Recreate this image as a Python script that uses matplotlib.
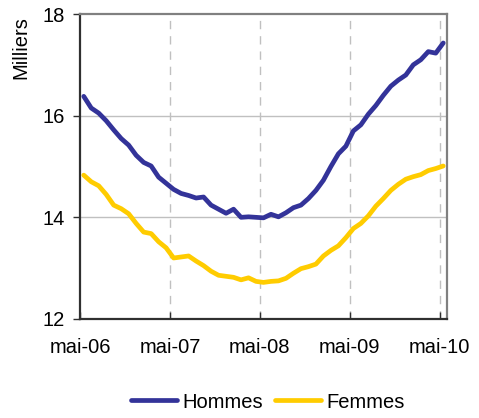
import numpy as np
import matplotlib
matplotlib.use("Agg")
import matplotlib.pyplot as plt

plt.rcParams["font.family"] = ["Liberation Sans", "DejaVu Sans"]

# monthly values, mai-06 .. mai-10 (thousands)
hommes = [16.38, 16.15, 16.05, 15.90, 15.72, 15.55, 15.42, 15.22, 15.08, 15.01,
          14.79, 14.67, 14.55, 14.47, 14.43, 14.38, 14.40, 14.24, 14.16, 14.08,
          14.16, 14.00, 14.01, 14.00, 13.99, 14.06, 14.01, 14.09, 14.19, 14.24,
          14.37, 14.53, 14.73, 15.00, 15.25, 15.40, 15.70, 15.82, 16.03, 16.20,
          16.40, 16.58, 16.70, 16.80, 17.00, 17.10, 17.26, 17.23, 17.43]
femmes = [14.83, 14.70, 14.62, 14.45, 14.24, 14.17, 14.07, 13.88, 13.71, 13.68,
          13.52, 13.40, 13.20, 13.22, 13.24, 13.14, 13.05, 12.94, 12.86, 12.84,
          12.82, 12.77, 12.81, 12.74, 12.72, 12.74, 12.75, 12.80, 12.90, 12.99,
          13.03, 13.08, 13.24, 13.35, 13.44, 13.60, 13.78, 13.88, 14.03, 14.22,
          14.37, 14.53, 14.65, 14.75, 14.80, 14.84, 14.92, 14.96, 15.01]
tick_months = [0, 12, 24, 36, 48]
tick_labels = ["mai-06", "mai-07", "mai-08", "mai-09", "mai-10"]
y_ticks = [12, 14, 16, 18]

# points sit in the middle of each month slot (Excel category axis)
x = np.arange(len(hommes)) + 0.5

fig = plt.figure(figsize=(4.79, 4.18), dpi=100)
ax = fig.add_axes([80 / 479, 1 - 319 / 418, 367 / 479, 305 / 418])

for y in [14, 16]:
    ax.axhline(y, color="#c0c0c0", lw=1, zorder=1)
for m in tick_months[1:]:
    ax.axvline(m, color="#c0c0c0", lw=1, ls=(0, (6, 5)), zorder=1)

ax.plot(x, hommes, color="#333399", lw=3.4, solid_capstyle="round", label="Hommes", zorder=3)
ax.plot(x, femmes, color="#ffcc00", lw=3.4, solid_capstyle="round", label="Femmes", zorder=3)

ax.set_xlim(0, 49)
ax.set_ylim(12, 18)
ax.set_xticks(tick_months)
ax.set_xticklabels(tick_labels)
ax.set_yticks(y_ticks)

for side in ["left", "bottom"]:
    ax.spines[side].set_color("#303030")
    ax.spines[side].set_linewidth(1.6)
for side in ["top", "right"]:
    ax.spines[side].set_color("#808080")
    ax.spines[side].set_linewidth(1.6)

ax.tick_params(axis="x", direction="in", length=5, width=1, color="#303030",
               labelsize=14.5, pad=14)
ax.tick_params(axis="y", direction="out", length=5, width=1, color="#303030",
               labelsize=14.5, pad=6)

fig.text(21 / 479, 1 - 48 / 418, "Milliers", rotation=90, ha="center", va="center",
         fontsize=14.5)

fig.legend(loc="center", bbox_to_anchor=(268 / 479, 1 - 402 / 418), ncol=2,
           frameon=False, fontsize=14.5, handlelength=2.3, handletextpad=0.25,
           columnspacing=0.6)

plt.savefig("out.png", dpi=100)
